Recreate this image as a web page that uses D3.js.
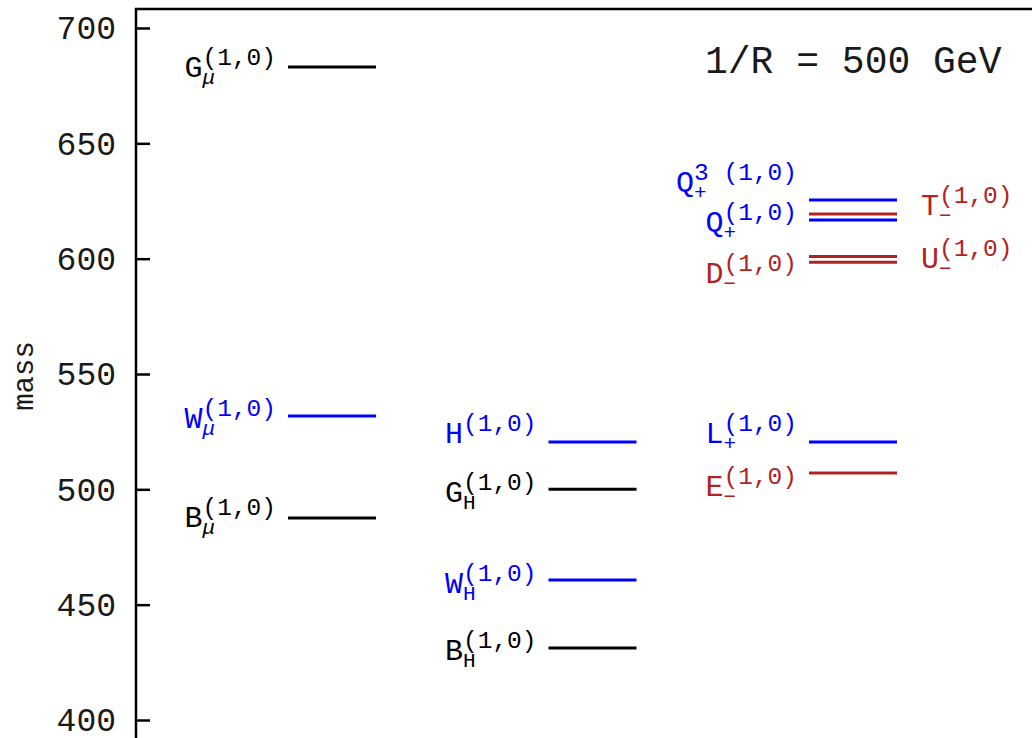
<!DOCTYPE html>
<html>
<head>
<meta charset="utf-8">
<script src="https://cdn.jsdelivr.net/npm/d3@7"></script>
<style>
  html, body { margin: 0; padding: 0; background: #fff; }
  svg { display: block; font-family: "Liberation Mono", "DejaVu Sans Mono", monospace; }
</style>
</head>
<body>
<svg id="chart" width="1032" height="738"></svg>
<script>
// KK level spectrum at 1/R = 500 GeV: masses of the (1,0) states
const particles = ["G_mu", "W_mu", "B_mu", "H", "G_H", "W_H", "B_H",
                   "Q3_plus", "Q_plus", "T_minus", "D_minus", "U_minus", "L_plus", "E_minus"];
const masses    = [683.1, 531.8, 487.6, 520.5, 500.0, 460.7, 431.2,
                   625.4, 616.8, 619.4, 598.4, 600.9, 520.5, 507.1];
const columns   = [1, 1, 1, 2, 2, 2, 2, 3, 3, 3, 3, 3, 3, 3];
const sectors   = ["neutral", "weak", "neutral", "weak", "neutral", "weak", "neutral",
                   "weak", "weak", "singlet", "singlet", "singlet", "weak", "singlet"];
const mainSymbols = ["G", "W", "B", "H", "G", "W", "B", "Q", "Q", "T", "D", "U", "L", "E"];
const subSymbols  = ["\u03bc", "\u03bc", "\u03bc", "", "H", "H", "H", "+", "+", "\u2212", "\u2212", "\u2212", "+", "\u2212"];
const supSymbols  = ["(1,0)", "(1,0)", "(1,0)", "(1,0)", "(1,0)", "(1,0)", "(1,0)",
                     "3 (1,0)", "(1,0)", "(1,0)", "(1,0)", "(1,0)", "(1,0)", "(1,0)"];
const yTicks = [400, 450, 500, 550, 600, 650, 700];
const axisTitle = "mass";
const headline = "1/R = 500 GeV";

// label placement: which side of the level, and baseline shift (px) so close levels stay readable
const labelSide  = { T_minus: "right", U_minus: "right" };
const labelShift = { G_mu: 10, W_mu: 12, B_mu: 9, H: 1, G_H: 13, W_H: 13, B_H: 12,
                     Q3_plus: -8, Q_plus: 12, T_minus: 1, D_minus: 21, U_minus: 11,
                     L_plus: 1, E_minus: 23 };

const svg = d3.select("#chart");
const frameLeft = 136, frameTop = 9;

const y = d3.scaleLinear().domain([400, 700]).range([720, 28]);
const x = d3.scaleLinear().domain([1, 3]).range([332, 853]);
const halfWidth = 44;

const color = d3.scaleOrdinal()
  .domain(["neutral", "weak", "singlet"])
  .range(["#000000", "#0000ff", "#b22222"]);

// frame (left and top edges; it runs past the page edges)
svg.append("rect")
  .attr("x", frameLeft).attr("y", frameTop)
  .attr("width", 1200).attr("height", 1000)
  .attr("fill", "none").attr("stroke", "#000").attr("stroke-width", 2.5);

// y axis with inward ticks
const axis = svg.append("g")
  .attr("transform", `translate(${frameLeft},0)`)
  .call(d3.axisLeft(y).tickValues(yTicks).tickSizeInner(-14).tickSizeOuter(0).tickPadding(20));
axis.select(".domain").remove();
axis.selectAll(".tick line").attr("stroke", "#000").attr("stroke-width", 2.5);
axis.selectAll(".tick text")
  .attr("font-family", "Liberation Mono, monospace")
  .attr("font-size", 33).attr("fill", "#1a1a1a").attr("dy", "0.33em");

// axis title
svg.append("text")
  .attr("transform", "translate(33,376) rotate(-90)")
  .attr("text-anchor", "middle")
  .attr("font-size", 29).attr("fill", "#1a1a1a")
  .text(axisTitle);

// heading
svg.append("text")
  .attr("x", 705).attr("y", 73)
  .attr("font-size", 38).attr("fill", "#1a1a1a")
  .text(headline);

// levels
const idx = d3.range(particles.length);
svg.append("g").selectAll("line")
  .data(idx)
  .join("line")
  .attr("x1", i => x(columns[i]) - halfWidth)
  .attr("x2", i => x(columns[i]) + halfWidth)
  .attr("y1", i => y(masses[i]))
  .attr("y2", i => y(masses[i]))
  .attr("stroke", i => color(sectors[i]))
  .attr("stroke-width", 3);

// labels: main symbol with stacked sub- and superscript
const labels = svg.append("g");
idx.forEach(i => {
  const c = color(sectors[i]);
  const g = labels.append("g");
  const main = g.append("text").attr("font-size", 30).attr("fill", c).text(mainSymbols[i]);
  const mw = main.node().getComputedTextLength();
  const sup = g.append("text").attr("x", mw).attr("y", -12)
    .attr("font-size", 24.5).attr("fill", c).text(supSymbols[i]);
  let sw = 0;
  if (subSymbols[i]) {
    const sub = g.append("text").attr("x", mw).attr("y", 7)
      .attr("font-size", 21).attr("fill", c)
      .attr("font-style", subSymbols[i] === "\u03bc" ? "italic" : null)
      .text(subSymbols[i]);
    sw = sub.node().getComputedTextLength();
  }
  const total = mw + Math.max(sw, sup.node().getComputedTextLength());
  const side = labelSide[particles[i]] || "left";
  const tx = side === "left"
    ? x(columns[i]) - halfWidth - 12 - total
    : x(columns[i]) + halfWidth + 24;
  const ty = y(masses[i]) + labelShift[particles[i]];
  g.attr("transform", `translate(${tx},${ty})`);
});
</script>
</body>
</html>
